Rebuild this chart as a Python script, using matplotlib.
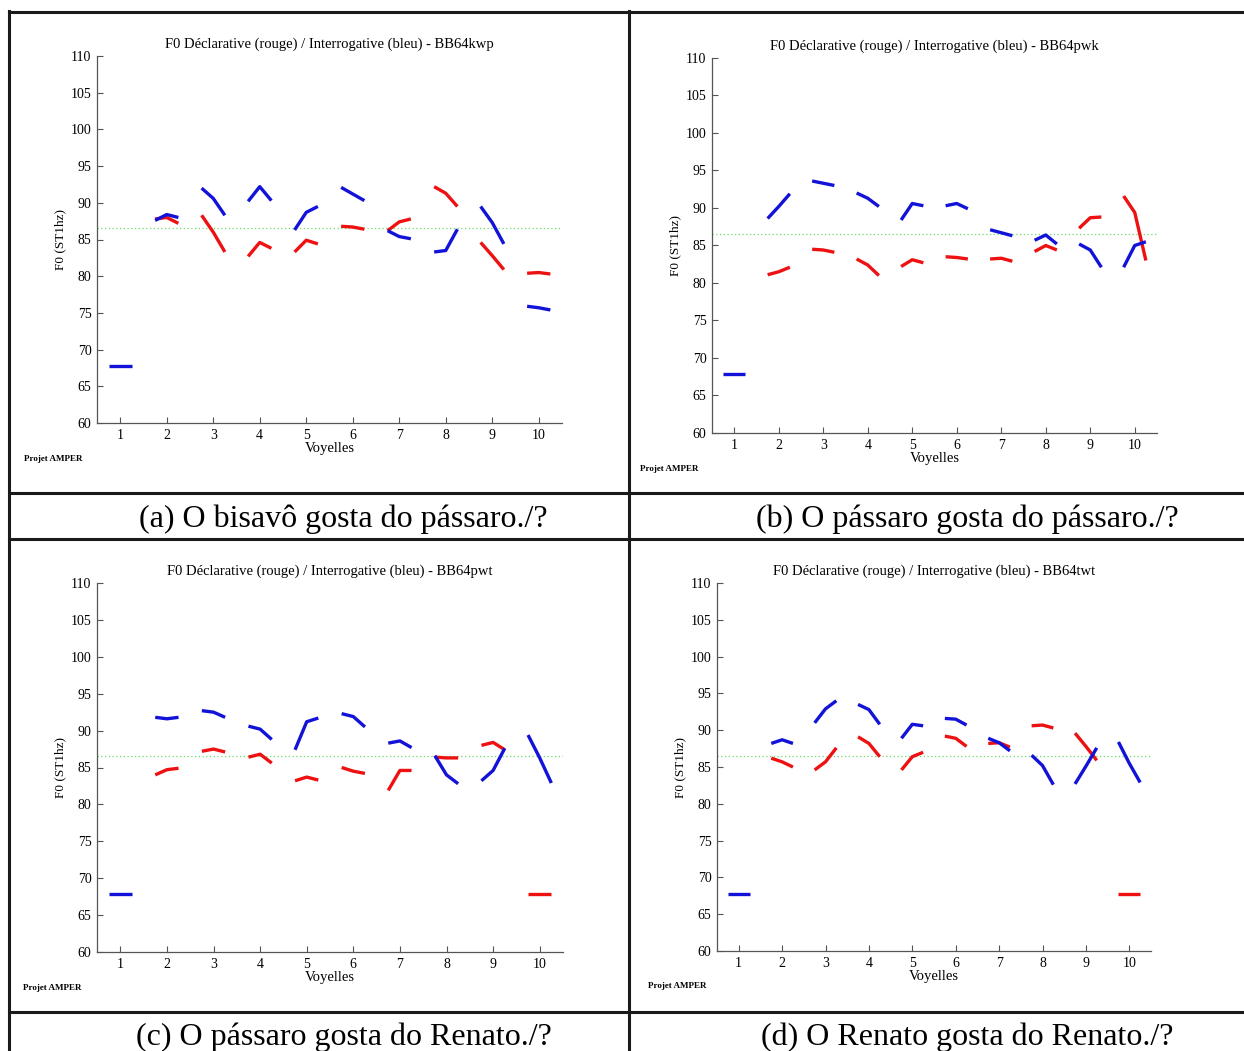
import numpy as np
import matplotlib
matplotlib.use("Agg")
import matplotlib.pyplot as plt
from matplotlib.lines import Line2D

plt.rcParams["font.family"] = ["Liberation Serif", "DejaVu Serif"]

W, H = 1244, 1051

vowels = list(range(1, 11))
nan = np.nan

# F0 per vowel: start / middle / end (ST 1hz)
a_blue = [[67.8, 67.8, 67.8], [87.6, 88.4, 88.0], [92.0, 90.6, 88.3], [90.2, 92.2, 90.3],
          [86.3, 88.7, 89.5], [92.1, 91.2, 90.3], [86.2, 85.4, 85.1], [83.3, 83.5, 86.4],
          [89.5, 87.3, 84.4], [75.9, 75.7, 75.4]]
a_red = [[nan, nan, nan], [87.8, 88.0, 87.2], [88.3, 86.0, 83.3], [82.7, 84.6, 83.8],
         [83.3, 84.9, 84.4], [86.8, 86.7, 86.4], [86.2, 87.4, 87.8], [92.2, 91.3, 89.5],
         [84.6, 82.8, 80.9], [80.4, 80.5, 80.3]]

b_blue = [[67.8, 67.8, 67.8], [88.6, 90.2, 91.9], [93.6, 93.3, 93.0], [92.0, 91.3, 90.2],
          [88.4, 90.6, 90.3], [90.3, 90.6, 89.9], [87.1, 86.7, 86.3], [85.7, 86.4, 85.2],
          [85.2, 84.4, 82.1], [82.1, 85.0, 85.5]]
b_red = [[nan, nan, nan], [81.1, 81.5, 82.1], [84.5, 84.4, 84.1], [83.2, 82.4, 81.0],
         [82.2, 83.1, 82.7], [83.5, 83.4, 83.2], [83.2, 83.3, 82.9], [84.2, 85.0, 84.4],
         [87.3, 88.7, 88.8], [91.6, 89.4, 83.0]]

c_blue = [[67.8, 67.8, 67.8], [91.8, 91.6, 91.8], [92.7, 92.5, 91.8], [90.6, 90.2, 88.8],
          [87.4, 91.2, 91.7], [92.3, 91.9, 90.5], [88.3, 88.6, 87.7], [86.6, 84.0, 82.8],
          [83.2, 84.6, 87.6], [89.4, 86.3, 82.9]]
c_red = [[nan, nan, nan], [84.0, 84.7, 84.9], [87.2, 87.5, 87.1], [86.4, 86.8, 85.6],
         [83.2, 83.7, 83.3], [85.0, 84.5, 84.2], [81.9, 84.6, 84.6], [86.4, 86.3, 86.3],
         [88.0, 88.4, 87.4], [67.8, 67.8, 67.8]]

d_blue = [[67.8, 67.8, 67.8], [88.2, 88.7, 88.2], [91.0, 92.9, 94.0], [93.5, 92.8, 90.8],
          [88.9, 90.8, 90.6], [91.6, 91.5, 90.7], [88.9, 88.3, 87.2], [86.6, 85.2, 82.6],
          [82.7, 85.1, 87.6], [88.4, 85.5, 82.9]]
d_red = [[nan, nan, nan], [86.2, 85.7, 85.0], [84.6, 85.7, 87.6], [89.1, 88.2, 86.4],
         [84.6, 86.4, 87.0], [89.2, 88.9, 87.8], [88.2, 88.3, 87.7], [90.6, 90.7, 90.3],
         [89.6, 87.8, 85.9], [67.8, 67.8, 67.8]]

mean_f0 = 86.5

titles = ["F0 Déclarative (rouge) / Interrogative (bleu) - BB64kwp",
          "F0 Déclarative (rouge) / Interrogative (bleu) - BB64pwk",
          "F0 Déclarative (rouge) / Interrogative (bleu) - BB64pwt",
          "F0 Déclarative (rouge) / Interrogative (bleu) - BB64twt"]
captions = ["(a) O bisavô gosta do pássaro./?",
            "(b) O pássaro gosta do pássaro./?",
            "(c) O pássaro gosta do Renato./?",
            "(d) O Renato gosta do Renato./?"]

panels = [(a_blue, a_red), (b_blue, b_red), (c_blue, c_red), (d_blue, d_red)]
# axes boxes in pixels: left, top, right, bottom
boxes = [(97, 56, 562, 423), (712, 58, 1157, 433), (97, 583, 563, 952), (717, 583, 1151, 951)]
amper_pos = [(24, 459), (640, 469), (23, 988), (648, 986)]
caption_pos = [(343, 519), (967, 519), (344, 1037), (967, 1037)]

fig = plt.figure(figsize=(W / 100, H / 100), dpi=100)

offs = np.array([-0.25, 0.0, 0.25])
for k, ((blue, red), (l, t, r, b)) in enumerate(zip(panels, boxes)):
    ax = fig.add_axes([l / W, 1 - b / H, (r - l) / W, (b - t) / H])
    ax.axhline(mean_f0, color="#66dd66", lw=0.9, ls=(0, (1, 2)), zorder=1)
    for v, seg in zip(vowels, red):
        ax.plot(v + offs, seg, color="#ee1111", lw=2.4, solid_capstyle="butt", zorder=2)
    for v, seg in zip(vowels, blue):
        ax.plot(v + offs, seg, color="#1212d8", lw=2.4, solid_capstyle="butt", zorder=3)
    ax.set_xlim(0.5, 10.5)
    ax.set_ylim(60, 110)
    ax.set_xticks(vowels)
    ax.set_yticks(range(60, 111, 5))
    ax.tick_params(direction="in", length=4, width=0.8, color="#555555",
                   labelsize=10, pad=4)
    for s in ("top", "right"):
        ax.spines[s].set_visible(False)
    for s in ("left", "bottom"):
        ax.spines[s].set_color("#555555")
        ax.spines[s].set_linewidth(0.9)
    ax.set_title(titles[k], fontsize=10.5, pad=6)
    ax.set_xlabel("Voyelles", fontsize=10.5, labelpad=0)
    ax.set_ylabel("F0 (ST1hz)", fontsize=9.5, labelpad=3)
    ax.patch.set_alpha(0)
    x0, y0 = amper_pos[k]
    fig.text(x0 / W, 1 - y0 / H, "Projet AMPER", fontsize=6.5, fontweight="bold",
             ha="left", va="center")
    cx, cy = caption_pos[k]
    fig.text(cx / W, 1 - cy / H, captions[k], fontsize=23, ha="center", va="center")

# table borders
def hline(y, x0=9, x1=W):
    fig.add_artist(Line2D([x0 / W, x1 / W], [1 - y / H, 1 - y / H], color="#1a1a1a", lw=2.2))

def vline(x, y0=11, y1=H):
    fig.add_artist(Line2D([x / W, x / W], [1 - y0 / H, 1 - y1 / H], color="#1a1a1a", lw=2.2))

for y in (12, 493, 539, 1012):
    hline(y)
for x in (9, 629):
    vline(x)

fig.savefig("out.png", dpi=100)
